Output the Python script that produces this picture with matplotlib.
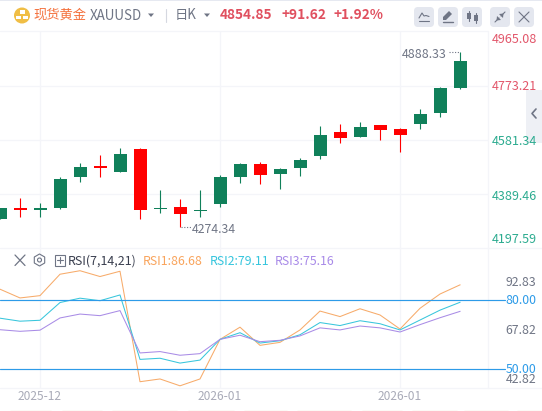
import matplotlib
matplotlib.use("Agg")
import matplotlib.pyplot as plt
from matplotlib.patches import Circle, FancyBboxPatch, Polygon, Rectangle, RegularPolygon

plt.rcParams['font.family'] = ['Noto Sans CJK SC', 'DejaVu Sans']

# OHLC, daily candles (left to right)
opens = [4301.4, 4340.0, 4334.0, 4340.0, 4448.8, 4487.4, 4466.3, 4547.0, 4336.5, 4343.5, 4329.5, 4354.0,
         4448.8, 4494.4, 4459.3, 4480.4, 4522.5, 4606.6, 4589.1, 4631.2, 4617.2, 4634.7, 4673.3, 4761.0]
closes = [4340.0, 4334.0, 4340.0, 4441.7, 4483.9, 4480.4, 4529.5, 4333.0, 4340.0, 4319.0, 4333.0, 4448.8,
          4494.4, 4455.8, 4476.9, 4508.4, 4596.1, 4585.6, 4624.2, 4613.7, 4597.2, 4669.8, 4761.0, 4854.85]
highs = [4340.0, 4375.0, 4356.5, 4448.8, 4497.9, 4526.0, 4550.5, 4550.5, 4403.0, 4371.6, 4403.0, 4455.8,
         4497.9, 4501.4, 4480.4, 4515.4, 4627.7, 4634.7, 4641.7, 4631.2, 4620.7, 4687.3, 4764.5, 4888.33]
lows = [4301.4, 4309.5, 4309.5, 4336.5, 4431.2, 4448.8, 4466.3, 4301.4, 4322.5, 4274.34, 4308.0, 4343.5,
        4427.7, 4424.2, 4406.7, 4452.3, 4511.9, 4568.1, 4589.1, 4578.6, 4537.5, 4617.2, 4659.3, 4757.5]

rsi1 = [84.8, 81.0, 82.0, 91.3, 92.83, 90.3, 92.6, 44.6, 45.8, 42.82, 45.8, 63.0,
        68.3, 60.4, 61.7, 67.1, 75.3, 72.9, 76.3, 73.6, 67.5, 76.5, 82.7, 86.68]
rsi2 = [72.2, 70.9, 71.3, 79.0, 80.9, 79.8, 82.3, 54.3, 54.8, 52.7, 54.0, 63.0,
        65.9, 61.4, 62.4, 65.0, 70.3, 69.0, 71.1, 69.8, 67.1, 71.4, 75.7, 79.11]
rsi3 = [67.2, 66.5, 67.0, 72.3, 74.0, 73.3, 75.5, 57.1, 57.7, 56.1, 56.8, 63.0,
        64.8, 62.0, 62.6, 64.5, 68.0, 67.1, 68.8, 68.0, 66.2, 69.4, 72.4, 75.16]

price_labels = ['4965.08', '4773.21', '4581.34', '4389.46', '4197.59']
rsi_labels = ['92.83', '80.00', '67.82', '50.00', '42.82']
date_labels = ['2025-12', '2026-01', '2026-01']
date_idx = [2, 11, 20]
rsi_levels = [80, 50]
grid_prices = [4769.0, 4578.6, 4390.9]

W, H = 542, 411
UP, DOWN = '#10805a', '#ff0000'
GRID = '#f4f5f9'
GRAY = '#6f7585'
RED_T = '#e2566a'
GREEN_T = '#2bab8f'
BLUE = '#2d9be8'

fig = plt.figure(figsize=(W / 100, H / 100), dpi=100, facecolor='white')


def box(x0, y0, x1, y1):
    return [x0 / W, 1 - y1 / H, (x1 - x0) / W, (y1 - y0) / H]


ax = fig.add_axes(box(0, 31, 488, 248))
rx = fig.add_axes(box(0, 248, 488, 388))
for a in (ax, rx):
    a.set_xlim(0, 24.4)
    a.set_xticks(date_idx)
    a.set_xticklabels([])
    a.tick_params(length=0)
    a.set_yticklabels([])
    a.grid(True, color=GRID, lw=0.9)
    a.set_axisbelow(True)
    for s in a.spines.values():
        s.set_visible(False)
    a.patch.set_alpha(0)

ax.set_ylim(5069.7 - 3.508 * 248, 5069.7 - 3.508 * 31)
ax.set_yticks(grid_prices)
ax.set_yticklabels([])
for i in range(len(opens)):
    col = UP if closes[i] >= opens[i] else DOWN
    ax.vlines(i, lows[i], highs[i], color=col, lw=0.8, zorder=3)
    ax.bar(i, abs(closes[i] - opens[i]), bottom=min(opens[i], closes[i]), width=0.65, color=col, lw=0, zorder=4)

rx.set_ylim(41.87, 102.7)
rx.set_yticks([])
xs = list(range(len(rsi1)))
rx.plot(xs, rsi1, color='#f7ab6a', lw=0.75, zorder=3)
rx.plot(xs, rsi2, color='#38c6dc', lw=0.75, zorder=3)
rx.plot(xs, rsi3, color='#a98ce6', lw=0.75, zorder=3)

# chrome layer in pixel coordinates
ov = fig.add_axes([0, 0, 1, 1], zorder=10)
ov.set_xlim(0, W)
ov.set_ylim(H, 0)
ov.axis('off')
ov.patch.set_alpha(0)


def T(x, y, s, color, size=12, ha='left', weight='normal'):
    ov.text(x, y, s, color=color, fontsize=size * 0.72, ha=ha, va='center', fontweight=weight)


def L(xs_, ys_, color=GRAY, lw=0.8):
    ov.plot(xs_, ys_, color=color, lw=lw, solid_capstyle='round')


# frame
ov.add_patch(Rectangle((0, 0), W, 1.2, color='#e6e9f1', lw=0))
L([0, 488], [31.5, 31.5], GRID, 0.9)
L([488, 488], [31, 388], GRID, 0.9)
L([0, 542], [248, 248], GRID, 0.9)
L([0, W], [388, 388], GRID, 0.9)

# header
ov.add_patch(Circle((22, 15.5), 8, color='#f0be45', lw=0))
for rx0, ry0 in [(19.5, 10.5), (15.8, 15.8), (23.2, 15.8)]:
    ov.add_patch(Rectangle((rx0, ry0), 5, 3.4, color='white', lw=0))
T(33, 15, '现货黄金', '#f4703c', 13.3)
T(90, 16, 'XAUUSD', GRAY, 13.4)
ov.add_patch(Polygon([(148, 13.5), (154, 13.5), (151, 17)], color=GRAY, lw=0))
L([165.5, 165.5], [9, 22], '#d5d8e0', 0.8)
T(175, 15, '日K', GRAY, 13.3)
ov.add_patch(Polygon([(204, 13.5), (210, 13.5), (207, 17)], color=GRAY, lw=0))
T(220, 15, '4854.85', '#e0505f', 13.7, weight='bold')
T(281, 15, '+91.62', '#e0505f', 13.7, weight='bold')
T(334, 15, '+1.92%', '#e0505f', 13.7, weight='bold')

for x0 in (414, 438, 462, 490, 514):
    ov.add_patch(FancyBboxPatch((x0 + 3, 10), 14, 14, boxstyle='round,pad=3,rounding_size=4', color='#e4e7ef', lw=0))
# line icon
L([419, 422, 424, 426, 429], [18, 13, 16, 15.5, 16.5])
L([419, 429], [21, 21])
# pencil icon
ov.add_patch(Polygon([(443, 20), (443, 17), (449, 11), (452, 14), (446, 20)], color=GRAY, lw=0))
L([443, 453], [22, 22], GRAY, 1.0)
# candles icon
ov.add_patch(Rectangle((467, 13), 3.5, 6, color=GRAY, lw=0))
ov.add_patch(Rectangle((474, 15), 3.5, 6, color=GRAY, lw=0))
L([468.7, 468.7], [11, 21])
L([475.7, 475.7], [13, 23])
# shrink icon
L([495, 499], [22, 18])
L([501, 505], [16, 12])
ov.add_patch(Polygon([(497, 16), (501, 20), (496.5, 20.5)], color=GRAY, lw=0))
ov.add_patch(Polygon([(499, 14), (503, 18), (503.5, 13.5)], color=GRAY, lw=0))
# close icon
L([519, 529], [12, 22])
L([529, 519], [12, 22])

# side tab
ov.add_patch(Rectangle((526, 90), 16, 53, color='#eef0f5', lw=0))
L([536, 532, 536], [109, 113.5, 118], GRAY, 1.2)

# price axis
T(492, 39.7, price_labels[0], RED_T, 12.6)
T(492, 86, price_labels[1], RED_T, 12.6)
T(492, 141.5, price_labels[2], GREEN_T, 12.6)
T(492, 196, price_labels[3], GREEN_T, 12.6)
T(492, 239.7, price_labels[4], GREEN_T, 12.6)

# extreme annotations
T(402, 54.5, f'{highs[23]:.2f}', GRAY, 12.3)
L([449, 459.5], [52, 52], GRAY, 0.8)
ov.lines[-1].set_linestyle((0, (1, 1.5)))
T(192, 229.5, f'{lows[9]:.2f}', GRAY, 12.3)
L([181, 191], [227, 227], GRAY, 0.8)
ov.lines[-1].set_linestyle((0, (1, 1.5)))

# RSI header
L([15, 25], [255, 265.5], GRAY, 0.9)
L([25, 15], [255, 265.5], GRAY, 0.9)
ov.add_patch(RegularPolygon((39.5, 260), 6, radius=6, fill=False, ec=GRAY, lw=0.8))
ov.add_patch(Circle((39.5, 260), 2, fill=False, ec=GRAY, lw=0.8))
ov.add_patch(Rectangle((54.5, 255), 10, 10.5, fill=False, ec=GRAY, lw=0.8))
L([56.5, 62.5], [260.2, 260.2], GRAY, 0.8)
L([59.5, 59.5], [257.2, 263.2], GRAY, 0.8)
T(68, 261, 'RSI(7,14,21)', '#3a3f4f', 12.4)
T(143, 261, f'RSI1:{rsi1[-1]:.2f}', '#f9a45c', 12.3)
T(210, 261, f'RSI2:{rsi2[-1]:.2f}', '#35c5dd', 12.3)
T(275, 261, f'RSI3:{rsi3[-1]:.2f}', '#a88ae8', 12.3)

# RSI levels
for lv in rsi_levels:
    y = 300.3 + (80 - lv) * 2.3
    L([0, 505], [y, y], BLUE, 0.85)
T(536, 282.7, rsi_labels[0], GRAY, 12.3, ha='right')
T(536, 300.5, rsi_labels[1], BLUE, 12.3, ha='right')
T(536, 330, rsi_labels[2], GRAY, 12.3, ha='right')
T(536, 369, rsi_labels[3], BLUE, 12.3, ha='right')
T(536, 379.5, rsi_labels[4], GRAY, 12.3, ha='right')

# dates
for lab, i in zip(date_labels, date_idx):
    ov.text(i * 20, 396, lab, color='#a9abb8', fontsize=12 * 0.72, ha='center', va='center')

# clipped underlines along the bottom edge
for x0, x1 in [(10, 51), (62, 102), (112, 177), (188, 234), (244, 287), (297, 351), (362, 402), (412, 457), (464, 508), (517, 542)]:
    L([x0, x1], [410.5, 410.5], '#d4a055', 0.8)

fig.savefig('out.png', dpi=100)
